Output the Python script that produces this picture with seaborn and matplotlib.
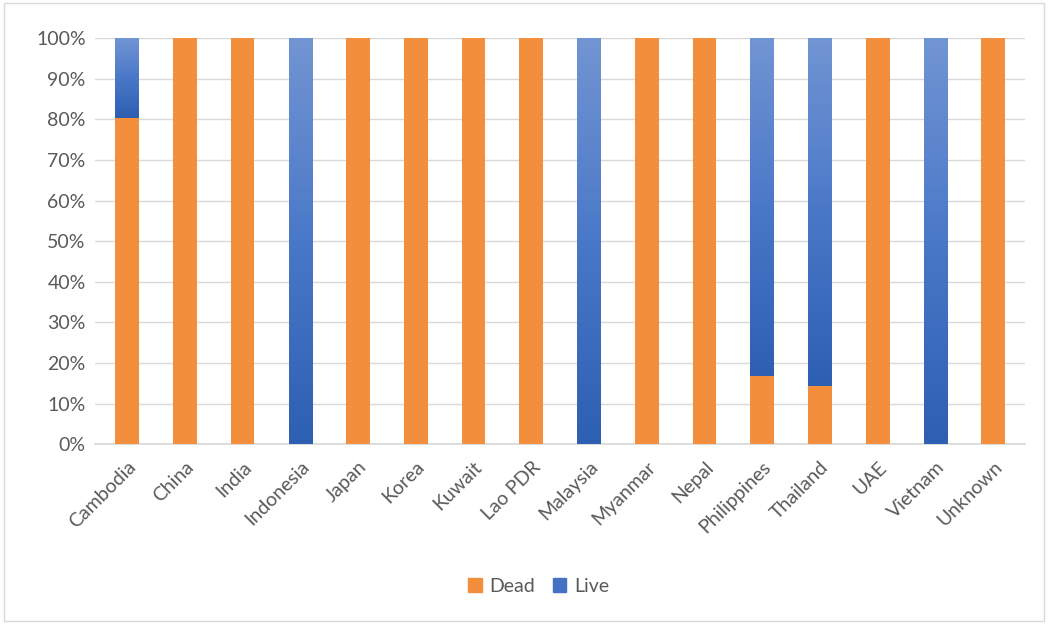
import numpy as np
import pandas as pd
import matplotlib
matplotlib.use("Agg")
import matplotlib.pyplot as plt
import matplotlib.patches as mpatches
from matplotlib.colors import LinearSegmentedColormap
import seaborn as sns

countries = ["Cambodia", "China", "India", "Indonesia", "Japan", "Korea", "Kuwait",
             "Lao PDR", "Malaysia", "Myanmar", "Nepal", "Philippines", "Thailand",
             "UAE", "Vietnam", "Unknown"]
dead_pct = [80.4, 100, 100, 0, 100, 100, 100, 100, 0, 100, 100, 16.7, 14.3, 100, 0, 100]
live_pct = [19.6, 0, 0, 100, 0, 0, 0, 0, 100, 0, 0, 83.3, 85.7, 0, 100, 0]
yticks = [0, 10, 20, 30, 40, 50, 60, 70, 80, 90, 100]

ORANGE = "#F28E3C"
BLUE = "#4472C4"
TXT = "#595959"

sns.set_theme(style="white")
plt.rcParams["font.family"] = ["Lato", "DejaVu Sans"]

df = pd.DataFrame({"country": countries, "Dead": dead_pct, "Live": live_pct})

fig = plt.figure(figsize=(10.48, 6.24), dpi=100)
ax = fig.add_axes([0.091, 0.288, 0.887, 0.651])

sns.barplot(data=df, x="country", y="Dead", color=ORANGE, width=0.41,
            saturation=1, ax=ax, zorder=3, linewidth=0)
sns.barplot(data=df, x="country", y="Live", color=BLUE, width=0.41,
            saturation=1, ax=ax, zorder=3, bottom=df["Dead"].values, linewidth=0)

# gradient fill on the Live bars (Excel-like)
cmap = LinearSegmentedColormap.from_list("g", ["#2D5FB2", "#4A78C8", "#7295D3"])
grad = np.linspace(0, 1, 256).reshape(-1, 1)
live_container = ax.containers[1]
for p in live_container.patches:
    x0, y0 = p.get_x(), p.get_y()
    w, h = p.get_width(), p.get_height()
    if h <= 0:
        continue
    im = ax.imshow(grad, cmap=cmap, aspect="auto", origin="lower",
                   extent=[x0, x0 + w, y0, y0 + h], zorder=3.5, interpolation="bicubic")
    im.set_clip_path(p)

if ax.get_legend() is not None:
    ax.get_legend().remove()

ax.set_xlim(-0.55, len(countries) - 0.45)
ax.set_ylim(0, 100)
ax.set_yticks(yticks)
ax.set_yticklabels([f"{v}%" for v in yticks])
ax.yaxis.grid(True, color="#D9D9D9", linewidth=1, zorder=0)
ax.xaxis.grid(False)
for s in ["top", "right", "left"]:
    ax.spines[s].set_visible(False)
ax.spines["bottom"].set_color("#D9D9D9")
ax.set_xlabel("")
ax.set_ylabel("")
ax.tick_params(axis="y", colors=TXT, labelsize=14, length=0, pad=7)
ax.tick_params(axis="x", colors=TXT, labelsize=14, length=0, pad=10)
plt.setp(ax.get_xticklabels(), rotation=45, ha="right", rotation_mode="anchor")

handles = [mpatches.Patch(color=ORANGE, label="Dead"), mpatches.Patch(color=BLUE, label="Live")]
fig.legend(handles=handles, loc="center", bbox_to_anchor=(0.514, 0.060), ncol=2,
           frameon=False, fontsize=14, labelcolor=TXT, handlelength=0.7,
           handleheight=0.7, handletextpad=0.4, columnspacing=0.9)

fig.patches.append(mpatches.Rectangle((0.004, 0.005), 0.992, 0.99, transform=fig.transFigure,
                                      fill=False, edgecolor="#D9D9D9", linewidth=1))

fig.savefig("out.png", dpi=100)
